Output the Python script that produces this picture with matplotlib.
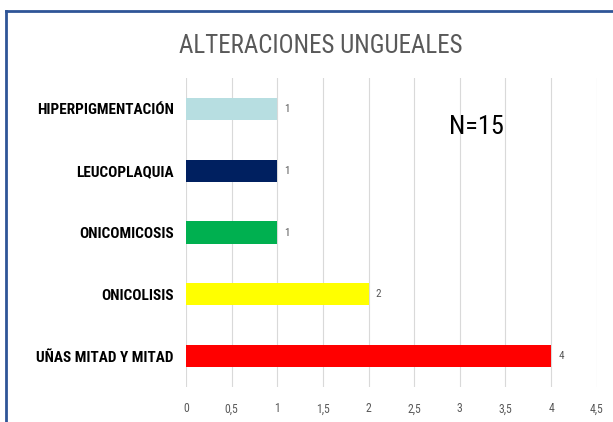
import matplotlib
matplotlib.use('Agg')
import matplotlib.pyplot as plt
from matplotlib.lines import Line2D

# datos
categorias = ['UÑAS MITAD Y MITAD', 'ONICOLISIS', 'ONICOMICOSIS', 'LEUCOPLAQUIA', 'HIPERPIGMENTACIÓN']
valores = [4, 2, 1, 1, 1]
colores = ['#FF0000', '#FFFF00', '#00B050', '#002060', '#B7DEE1']
ticks_x = [0, 0.5, 1, 1.5, 2, 2.5, 3, 3.5, 4, 4.5]
etiquetas_x = ['0', '0,5', '1', '1,5', '2', '2,5', '3', '3,5', '4', '4,5']

fuente = ['Roboto Condensed', 'Archivo Narrow', 'DejaVu Sans']
plt.rcParams['font.family'] = fuente

fig = plt.figure(figsize=(6.13, 4.22), dpi=100)
ax = fig.add_axes([186/613, 1-387/422, (596.7-186)/613, (387-78)/422])

y = range(len(categorias))
ax.barh(y, valores, height=0.36, color=colores, zorder=3)
ax.set_xlim(0, 4.5)
ax.set_ylim(-0.5, len(categorias) - 0.5)

ax.set_xticks(ticks_x)
ax.set_xticklabels(etiquetas_x, color='#595959', fontsize=8.5)
ax.set_yticks(list(y))
ax.set_yticklabels(categorias, fontsize=11, fontweight='bold', color='black')
ax.tick_params(axis='both', length=0)
ax.tick_params(axis='x', pad=11)
ax.tick_params(axis='y', pad=9)
ax.grid(axis='x', color='#D9D9D9', linewidth=0.8, zorder=0)
for s in ax.spines.values():
    s.set_visible(False)

for i, v in enumerate(valores):
    ax.text(v + 0.08, i, str(v), va='center', ha='left', fontsize=8, color='#595959')

fig.text(321/613, 1-46/422, 'ALTERACIONES UNGUEALES', ha='center', va='center',
         fontsize=18, color='#595959')
fig.text(476/613, 1-127/422, 'N=15', ha='center', va='center', fontsize=19, color='black')

# marco
fig.add_artist(Line2D([6/613, 6/613], [0, 1-11/422], color='#2F5597', linewidth=2))
fig.add_artist(Line2D([6/613, 1], [1-11/422, 1-11/422], color='#2F5597', linewidth=2))

fig.savefig('out.png', dpi=100)
